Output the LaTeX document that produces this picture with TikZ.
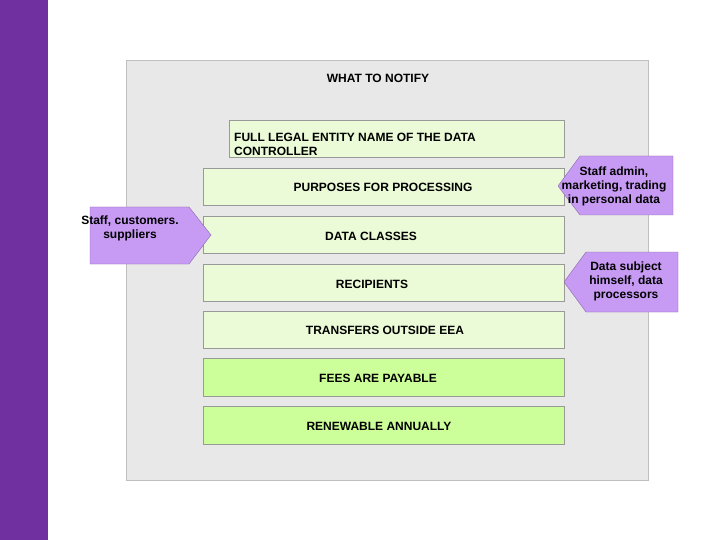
\documentclass[tikz,border=0pt]{standalone}
\usepackage{fontspec}
\setmainfont{Liberation Sans}
\begin{document}
\begin{tikzpicture}[x=1pt,y=-1pt,
  lbl/.style={font=\bfseries\fontsize{12}{13.5}\selectfont, inner sep=0pt},
  bar/.style={draw=black!40, fill=barfill},
  barg/.style={draw=black!40, fill=bargreen},
  call/.style={draw=callline, fill=callfill},
  ctext/.style={font=\bfseries\fontsize{12}{14}\selectfont, align=center, inner sep=0pt}]
\definecolor{barfill}{HTML}{EBFBD7}
\definecolor{bargreen}{HTML}{CCFF99}
\definecolor{callfill}{HTML}{C79AF4}
\definecolor{callline}{HTML}{8A6AA8}
\definecolor{side}{HTML}{7030A0}
\useasboundingbox (0,0) rectangle (720,540);
\fill[white] (0,0) rectangle (720,540);
\fill[side] (0,0) rectangle (48,540);
\draw[draw=black!25, fill=black!9] (126,60) rectangle (648,480);
\node[lbl] (title) at (378,78) {WHAT TO NOTIFY};
\draw[bar] (229,120) rectangle (564,157);
\node[lbl, anchor=north west, align=left] (b1) at (234,133) {FULL LEGAL ENTITY NAME OF THE DATA\\CONTROLLER};
\draw[bar] (203,168) rectangle (564,205);
\node[lbl] (b2) at (383,187) {PURPOSES FOR PROCESSING};
\draw[bar] (203,216) rectangle (564,253);
\node[lbl] (b3) at (371,236) {DATA CLASSES};
\draw[bar] (203,264) rectangle (564,301);
\node[lbl] (b4) at (372,284) {RECIPIENTS};
\draw[bar] (203,311) rectangle (564,348);
\node[lbl] (b5) at (385,330) {TRANSFERS OUTSIDE EEA};
\draw[barg] (203,358) rectangle (564,396);
\node[lbl] (b6) at (378,378) {FEES ARE PAYABLE};
\draw[barg] (203,406) rectangle (564,444);
\node[lbl] (b7) at (379,426) {RENEWABLE ANNUALLY};
\draw[call] (90,207) -- (189,207) -- (211,235) -- (189,264) -- (90,264) -- cycle;
\node[ctext] (c1) at (130,228) {Staff, customers.\\suppliers};
\draw[call] (580,156) -- (673,156) -- (673,215) -- (580,215) -- (558,186) -- cycle;
\node[ctext] (c2) at (614,186) {Staff admin,\\marketing, trading\\in personal data};
\draw[call] (586,252) -- (678,252) -- (678,312) -- (586,312) -- (564,282) -- cycle;
\node[ctext] (c3) at (626,281) {Data subject\\himself, data\\processors};
\end{tikzpicture}
\end{document}
